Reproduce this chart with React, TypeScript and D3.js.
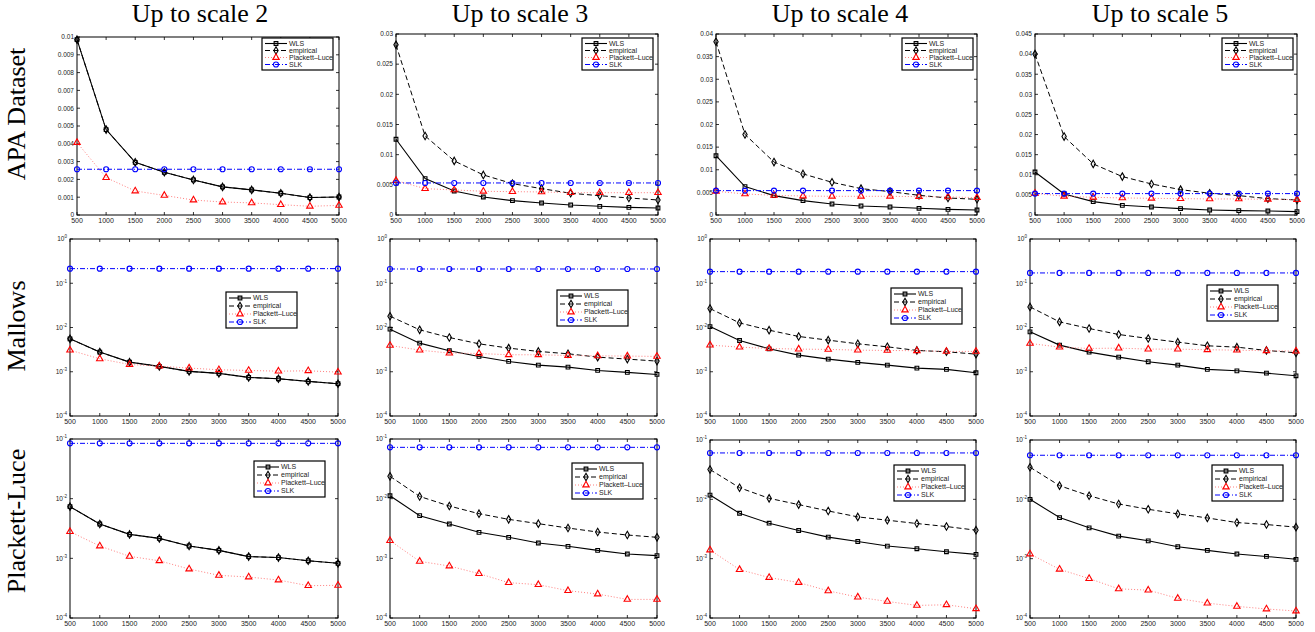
import { useEffect, useRef } from 'react'
import * as d3 from 'd3'

// ---- data ----
const sampleSizes = [500, 1000, 1500, 2000, 2500, 3000, 3500, 4000, 4500, 5000]
const scaleTitles = ['Up to scale 2', 'Up to scale 3', 'Up to scale 4', 'Up to scale 5']
const datasetTitles = ['APA Dataset', 'Mallows', 'Plackett-Luce']
const methodNames = ['WLS', 'empirical', 'Plackett\u2013Luce', 'SLK']

// APA dataset (linear y), one row per scale
const apaWLS = [
  [0.00985, 0.0048, 0.00296, 0.0024, 0.00197, 0.00158, 0.00141, 0.00122, 0.00098, 0.00101],
  [0.01256, 0.00603, 0.00398, 0.00299, 0.00238, 0.00199, 0.00166, 0.00144, 0.00127, 0.00116],
  [0.0131, 0.00627, 0.00428, 0.00317, 0.00244, 0.00199, 0.00177, 0.00148, 0.00125, 0.0011],
  [0.0107, 0.00523, 0.00332, 0.00241, 0.00199, 0.00158, 0.00125, 0.00108, 0.001, 0.00083],
]
const apaEmpirical = [
  [0.00985, 0.0048, 0.00296, 0.0024, 0.00197, 0.00158, 0.00141, 0.00122, 0.00098, 0.00101],
  [0.0282, 0.0131, 0.00897, 0.00664, 0.0052, 0.00437, 0.0036, 0.0032, 0.00282, 0.00249],
  [0.0383, 0.0178, 0.0117, 0.00908, 0.00723, 0.00583, 0.00517, 0.00435, 0.00376, 0.00347],
  [0.04, 0.0195, 0.0127, 0.00955, 0.00772, 0.00631, 0.0054, 0.00482, 0.00407, 0.00374],
]
const apaPL = [
  [0.00407, 0.0021, 0.00135, 0.0011, 0.00084, 0.00073, 0.00068, 0.00058, 0.00049, 0.00054],
  [0.0057, 0.00437, 0.00415, 0.00393, 0.00387, 0.00382, 0.0037, 0.0037, 0.0037, 0.0037],
  [0.00524, 0.00465, 0.00435, 0.0042, 0.00413, 0.00413, 0.00413, 0.00406, 0.00399, 0.00384],
  [0.0054, 0.00465, 0.0044, 0.00424, 0.00415, 0.00407, 0.00399, 0.00399, 0.0039, 0.00382],
]
const apaSLK = [
  [0.00257, 0.00257, 0.00257, 0.00257, 0.00257, 0.00257, 0.00257, 0.00257, 0.00257, 0.00257],
  [0.00531, 0.00531, 0.00531, 0.00531, 0.00531, 0.00531, 0.00531, 0.00531, 0.00531, 0.00531],
  [0.00539, 0.00539, 0.00539, 0.00539, 0.00539, 0.00539, 0.00539, 0.00539, 0.00539, 0.00539],
  [0.00532, 0.00532, 0.00532, 0.00532, 0.00532, 0.00532, 0.00532, 0.00532, 0.00532, 0.00532],
]
const apaYMax = [0.01, 0.03, 0.04, 0.045]
const apaYStep = [0.001, 0.005, 0.005, 0.005]

// Mallows (log y, 1e-4 .. 1e0)
const mallowsWLS = [
  [5.55e-3, 2.78e-3, 1.65e-3, 1.32e-3, 1.02e-3, 9.2e-4, 7.45e-4, 6.95e-4, 6.05e-4, 5.37e-4],
  [9.17e-3, 4.43e-3, 2.98e-3, 2.22e-3, 1.71e-3, 1.41e-3, 1.27e-3, 1.07e-3, 9.66e-4, 8.7e-4],
  [1.05e-2, 5.09e-3, 3.3e-3, 2.38e-3, 1.93e-3, 1.63e-3, 1.41e-3, 1.21e-3, 1.13e-3, 9.5e-4],
  [7.98e-3, 4.0e-3, 2.78e-3, 2.14e-3, 1.68e-3, 1.41e-3, 1.13e-3, 1.05e-3, 9.3e-4, 8.1e-4],
]
const mallowsEmpirical = [
  [5.55e-3, 2.78e-3, 1.65e-3, 1.32e-3, 1.02e-3, 9.2e-4, 7.45e-4, 6.95e-4, 6.05e-4, 5.37e-4],
  [1.8e-2, 8.86e-3, 5.94e-3, 4.28e-3, 3.42e-3, 2.88e-3, 2.55e-3, 2.14e-3, 1.93e-3, 1.74e-3],
  [2.68e-2, 1.27e-2, 8.7e-3, 6.27e-3, 5.18e-3, 4.28e-3, 3.66e-3, 3.03e-3, 2.83e-3, 2.5e-3],
  [2.92e-2, 1.34e-2, 9.5e-3, 6.95e-3, 5.65e-3, 4.67e-3, 3.86e-3, 3.6e-3, 3.03e-3, 2.68e-3],
]
const mallowsPL = [
  [3.08e-3, 1.96e-3, 1.46e-3, 1.34e-3, 1.21e-3, 1.11e-3, 1.07e-3, 1.03e-3, 1.05e-3, 9.8e-4],
  [3.93e-3, 3.08e-3, 2.64e-3, 2.59e-3, 2.42e-3, 2.42e-3, 2.33e-3, 2.29e-3, 2.26e-3, 2.22e-3],
  [4.0e-3, 3.6e-3, 3.36e-3, 3.25e-3, 3.2e-3, 3.08e-3, 3.03e-3, 2.98e-3, 2.88e-3, 2.88e-3],
  [4.36e-3, 3.6e-3, 3.36e-3, 3.42e-3, 3.25e-3, 3.25e-3, 3.14e-3, 3.08e-3, 2.98e-3, 2.93e-3],
]
const mallowsSLK = [
  [0.214, 0.214, 0.214, 0.214, 0.214, 0.214, 0.214, 0.214, 0.214, 0.214],
  [0.21, 0.21, 0.21, 0.21, 0.21, 0.21, 0.21, 0.21, 0.21, 0.21],
  [0.183, 0.183, 0.183, 0.183, 0.183, 0.183, 0.183, 0.183, 0.183, 0.183],
  [0.171, 0.171, 0.171, 0.171, 0.171, 0.171, 0.171, 0.171, 0.171, 0.171],
]
const mallowsYDomain = [1e-4, 1]

// Plackett-Luce (log y, 1e-4 .. 1e-1)
const plackettWLS = [
  [7.35e-3, 3.76e-3, 2.52e-3, 2.16e-3, 1.61e-3, 1.36e-3, 1.07e-3, 1.03e-3, 9.1e-4, 8.25e-4],
  [1.12e-2, 5.19e-3, 3.76e-3, 2.73e-3, 2.25e-3, 1.81e-3, 1.59e-3, 1.36e-3, 1.18e-3, 1.11e-3],
  [1.18e-2, 5.82e-3, 3.96e-3, 2.98e-3, 2.31e-3, 1.95e-3, 1.63e-3, 1.47e-3, 1.31e-3, 1.18e-3],
  [1.0e-2, 4.93e-3, 3.31e-3, 2.4e-3, 2.0e-3, 1.59e-3, 1.38e-3, 1.2e-3, 1.09e-3, 9.75e-4],
]
const plackettEmpirical = [
  [7.35e-3, 3.76e-3, 2.52e-3, 2.16e-3, 1.61e-3, 1.36e-3, 1.07e-3, 1.03e-3, 9.1e-4, 8.25e-4],
  [2.37e-2, 1.09e-2, 7.53e-3, 5.6e-3, 4.5e-3, 3.81e-3, 3.22e-3, 2.76e-3, 2.46e-3, 2.25e-3],
  [3.18e-2, 1.57e-2, 1.04e-2, 8.15e-3, 6.37e-3, 5.06e-3, 4.45e-3, 3.91e-3, 3.48e-3, 3.02e-3],
  [3.48e-2, 1.7e-2, 1.15e-2, 8.35e-3, 6.8e-3, 5.68e-3, 4.86e-3, 4.06e-3, 3.76e-3, 3.4e-3],
]
const plackettPL = [
  [2.8e-3, 1.61e-3, 1.08e-3, 9.1e-4, 6.62e-4, 5.19e-4, 4.86e-4, 4.33e-4, 3.48e-4, 3.53e-4],
  [1.98e-3, 8.9e-4, 7.44e-4, 5.54e-4, 3.91e-4, 3.62e-4, 2.87e-4, 2.52e-4, 2.05e-4, 2.05e-4],
  [1.4e-3, 6.54e-4, 4.81e-4, 3.96e-4, 2.87e-4, 2.25e-4, 1.9e-4, 1.63e-4, 1.67e-4, 1.43e-4],
  [1.2e-3, 6.62e-4, 4.62e-4, 3.1e-4, 2.95e-4, 2.14e-4, 1.78e-4, 1.57e-4, 1.42e-4, 1.31e-4],
]
const plackettSLK = [
  [0.0846, 0.0846, 0.0846, 0.0846, 0.0846, 0.0846, 0.0846, 0.0846, 0.0846, 0.0846],
  [0.0725, 0.0725, 0.0725, 0.0725, 0.0725, 0.0725, 0.0725, 0.0725, 0.0725, 0.0725],
  [0.0605, 0.0605, 0.0605, 0.0605, 0.0605, 0.0605, 0.0605, 0.0605, 0.0605, 0.0605],
  [0.0553, 0.0553, 0.0553, 0.0553, 0.0553, 0.0553, 0.0553, 0.0553, 0.0553, 0.0553],
]
const plackettYDomain = [1e-4, 1e-1]

// ---- layout (pixels) ----
const plotX = [
  [[77, 339], [396, 658], [716, 977], [1035, 1297]],
  [[70, 338], [390, 657], [710, 976], [1030, 1296]],
  [[70, 338], [390, 657], [710, 976], [1030, 1296]],
]
const plotTop = [[37, 34, 34, 34], [239, 239, 239, 239], [439, 439, 440, 440]]
const plotBottom = [215, 416, 618]
const legendPos = [
  [[262, 38], [582, 38], [902, 38], [1222, 38]],
  [[226, 292], [557, 290], [891, 288], [1207, 285]],
  [[254, 461], [572, 463], [894, 465], [1212, 465]],
]
const titleCenters = [200, 520, 840, 1160]
const rowLabelCenters = [114, 326, 521]

const SANS = '"Liberation Sans", Arial, Helvetica, sans-serif'
const SERIF = '"Liberation Serif", "Times New Roman", Times, serif'

const seriesStyle = [
  { color: '#000', line: '#000', dash: null as string | null, symbol: d3.symbolSquare, size: 14, width: 1.1 },
  { color: '#000', line: '#000', dash: '5,3', symbol: d3.symbolDiamond, size: 16, width: 1 },
  { color: '#ff0000', line: '#ff7070', dash: '1,2', symbol: d3.symbolTriangle, size: 18, width: 0.9 },
  { color: '#0000ff', line: '#0000ff', dash: '5,2,1,2', symbol: d3.symbolCircle, size: 20, width: 1 },
]

export default function App() {
  const svgRef = useRef<SVGSVGElement>(null)

  useEffect(() => {
    if (!svgRef.current) return
    const svg = d3.select(svgRef.current)
    svg.selectAll('*').remove()

    const rows = [
      { series: [apaWLS, apaEmpirical, apaPL, apaSLK], log: false },
      { series: [mallowsWLS, mallowsEmpirical, mallowsPL, mallowsSLK], log: true, domain: mallowsYDomain },
      { series: [plackettWLS, plackettEmpirical, plackettPL, plackettSLK], log: true, domain: plackettYDomain },
    ]

    // column titles
    scaleTitles.forEach((t, c) => {
      svg.append('text')
        .attr('x', titleCenters[c]).attr('y', 22)
        .attr('text-anchor', 'middle')
        .style('font-family', SERIF).style('font-size', '26px')
        .text(t)
    })

    // row titles
    datasetTitles.forEach((t, r) => {
      svg.append('text')
        .attr('transform', `translate(25,${rowLabelCenters[r]}) rotate(-90)`)
        .attr('text-anchor', 'middle')
        .style('font-family', SERIF).style('font-size', '26px')
        .text(t)
    })

    rows.forEach((row, r) => {
      for (let c = 0; c < 4; c++) {
        const [x0, x1] = plotX[r][c]
        const y0 = plotTop[r][c]
        const y1 = plotBottom[r]
        const g = svg.append('g')

        const x = d3.scaleLinear().domain([500, 5000]).range([x0, x1])
        let y: any
        let yTicks: number[]
        if (row.log) {
          y = d3.scaleLog().domain(row.domain as number[]).range([y1, y0])
          const lo = Math.round(Math.log10(row.domain![0]))
          const hi = Math.round(Math.log10(row.domain![1]))
          yTicks = d3.range(lo, hi + 1).map(e => Math.pow(10, e))
        } else {
          y = d3.scaleLinear().domain([0, apaYMax[c]]).range([y1, y0])
          const n = Math.round(apaYMax[c] / apaYStep[c])
          yTicks = d3.range(0, n + 1).map(i => +(i * apaYStep[c]).toFixed(4))
        }

        // box
        g.append('rect')
          .attr('x', x0).attr('y', y0)
          .attr('width', x1 - x0).attr('height', y1 - y0)
          .attr('fill', '#fff').attr('stroke', '#000').attr('stroke-width', 1)

        // ticks (inward, all four sides)
        const tl = 3
        sampleSizes.forEach(v => {
          const px = x(v)
          g.append('line').attr('x1', px).attr('x2', px).attr('y1', y1).attr('y2', y1 - tl)
            .attr('stroke', '#000').attr('stroke-width', 0.8)
          g.append('line').attr('x1', px).attr('x2', px).attr('y1', y0).attr('y2', y0 + tl)
            .attr('stroke', '#000').attr('stroke-width', 0.8)
          g.append('text')
            .attr('x', px).attr('y', y1 + 8)
            .attr('text-anchor', 'middle')
            .style('font-family', SANS).style('font-size', '7px').style('fill', '#222')
            .text(String(v))
        })
        yTicks.forEach(v => {
          const py = y(v)
          g.append('line').attr('x1', x0).attr('x2', x0 + tl).attr('y1', py).attr('y2', py)
            .attr('stroke', '#000').attr('stroke-width', 0.8)
          g.append('line').attr('x1', x1).attr('x2', x1 - tl).attr('y1', py).attr('y2', py)
            .attr('stroke', '#000').attr('stroke-width', 0.8)
          const t = g.append('text')
            .attr('x', x0 - 3).attr('y', py + 2.3)
            .attr('text-anchor', 'end')
            .style('font-family', SANS).style('font-size', '6.5px').style('fill', '#222')
          if (row.log) {
            const e = Math.round(Math.log10(v))
            t.append('tspan').text('10')
            t.append('tspan').attr('dy', -3).style('font-size', '4.5px').text(String(e))
          } else {
            t.text(d3.format('~g')(v))
          }
        })

        // series
        row.series.forEach((s, k) => {
          const vals = s[c]
          const st = seriesStyle[k]
          const pts = sampleSizes.map((xv, i) => [x(xv), y(vals[i])] as [number, number])
          g.append('path')
            .attr('d', d3.line()(pts))
            .attr('fill', 'none')
            .attr('stroke', st.line)
            .attr('stroke-width', st.width)
            .attr('stroke-dasharray', st.dash)
          const sym = d3.symbol().type(st.symbol).size(st.size)
          pts.forEach(p => {
            g.append('path')
              .attr('d', sym())
              .attr('transform', `translate(${p[0]},${p[1]})`)
              .attr('fill', 'none')
              .attr('stroke', st.color)
              .attr('stroke-width', 1.1)
          })
        })

        // legend
        const [lx, ly] = legendPos[r][c]
        const lw = 71
        const lh = r === 0 ? 32 : 36
        const lg = g.append('g').attr('transform', `translate(${lx},${ly})`)
        lg.append('rect').attr('width', lw).attr('height', lh)
          .attr('fill', '#fff').attr('stroke', '#000').attr('stroke-width', 1.2)
        const step = (lh - 4) / 4
        methodNames.forEach((name, k) => {
          const st = seriesStyle[k]
          const cy = 2 + step * (k + 0.5)
          lg.append('line').attr('x1', 3).attr('x2', 25).attr('y1', cy).attr('y2', cy)
            .attr('stroke', st.line).attr('stroke-width', st.width)
            .attr('stroke-dasharray', st.dash)
          lg.append('path')
            .attr('d', d3.symbol().type(st.symbol).size(st.size)())
            .attr('transform', `translate(14,${cy})`)
            .attr('fill', 'none').attr('stroke', st.color).attr('stroke-width', 1.1)
          lg.append('text')
            .attr('x', 27).attr('y', cy + 2.4)
            .style('font-family', SANS).style('font-size', '7px').style('fill', '#222')
            .text(name)
        })
      }
    })
  }, [])

  return (
    <svg
      ref={svgRef}
      width={1315}
      height={632}
      style={{ position: 'absolute', left: 0, top: 0, background: '#fff' }}
    />
  )
}
